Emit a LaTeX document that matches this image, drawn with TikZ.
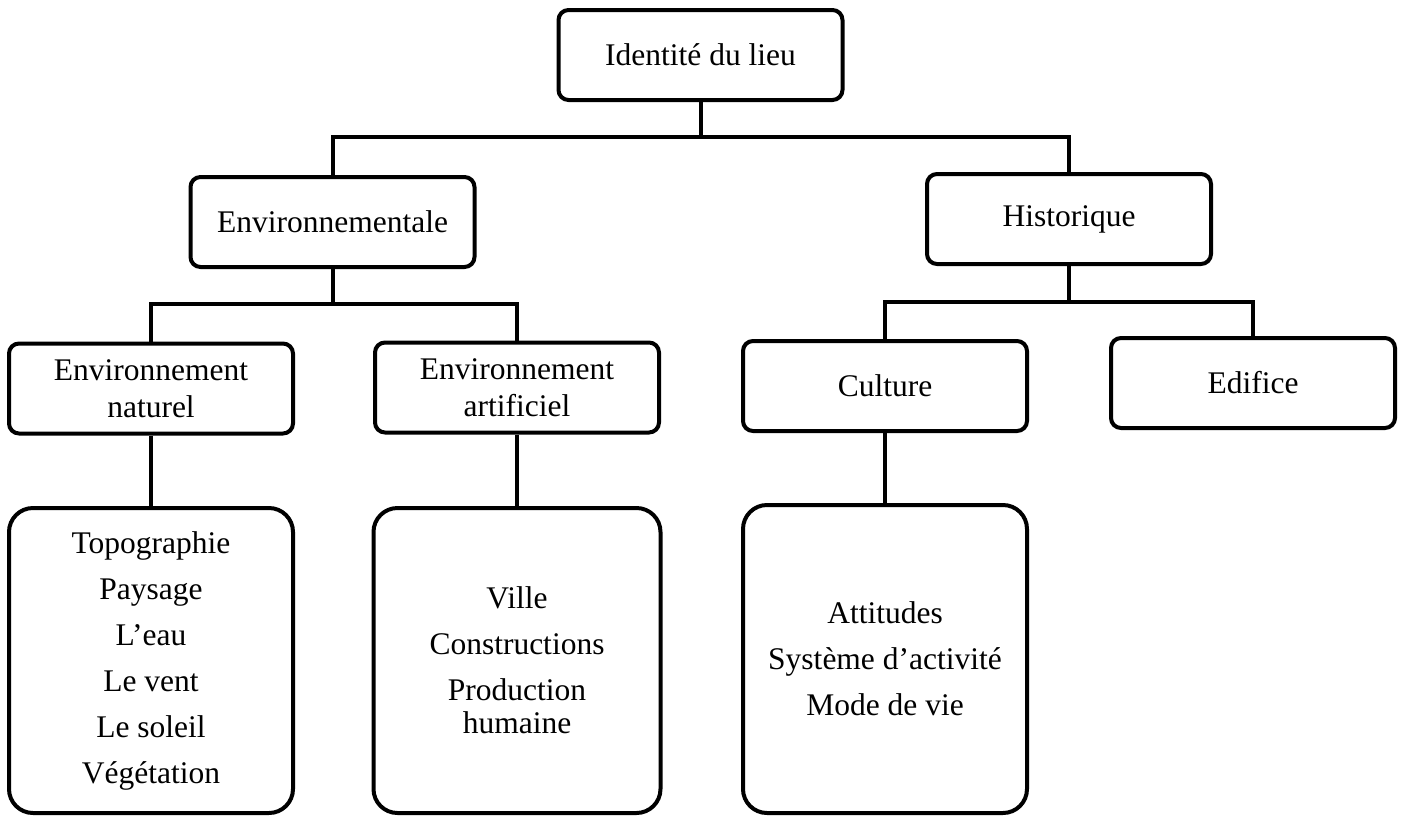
\documentclass[tikz,border=0pt]{standalone}
\usepackage{fontspec}
\setmainfont{Liberation Serif}
\begin{document}
\begin{tikzpicture}[x=1pt,y=-1pt,
  box/.style={draw, line width=4pt, rounded corners=10pt, minimum width=284pt, minimum height=90pt,
    align=center, inner sep=0pt, font=\fontsize{31.5}{37}\selectfont},
  listbox/.style={box, rounded corners=24pt, minimum height=305pt, font=\fontsize{31.5}{46}\selectfont},
  link/.style={line width=4pt}]
\useasboundingbox (0,0) rectangle (1401,815);

\node[box] (top) at (700.5,55) {Identité du lieu};
\node[box] (env) at (332.5,222) {Environnementale};
\node[box] (hist) at (1069,219) {Historique};
\node[box] (nat) at (151,388.5) {Environnement\\naturel};
\node[box] (art) at (517,387.5) {Environnement\\artificiel};
\node[box] (cul) at (885,386) {Culture};
\node[box] (edi) at (1253,383) {Edifice};

\node[listbox] (natl) at (151,660.5) {Topographie\\Paysage\\L’eau\\Le vent\\Le soleil\\Végétation};
\node[listbox, minimum width=287pt] (artl) at (517,660.5) {Ville\\Constructions\\Production\\[-13pt]humaine};
\node[listbox, minimum height=308pt] (cull) at (885,659) {Attitudes\\Système d’activité\\Mode de vie};

\coordinate (j1) at (700.5,137);
\coordinate (j2) at (332.5,304);
\coordinate (j3) at (1069,302);

\draw[link] (top.south) -- (j1);
\draw[link] (env.north) |- (j1) -| (hist.north);
\draw[link] (env.south) -- (j2);
\draw[link] (nat.north) |- (j2) -| (art.north);
\draw[link] (hist.south) -- (j3);
\draw[link] (cul.north) |- (j3) -| (edi.north);
\draw[link] (nat.south) -- (natl.north);
\draw[link] (art.south) -- (artl.north);
\draw[link] (cul.south) -- (cull.north);
\end{tikzpicture}
\end{document}
